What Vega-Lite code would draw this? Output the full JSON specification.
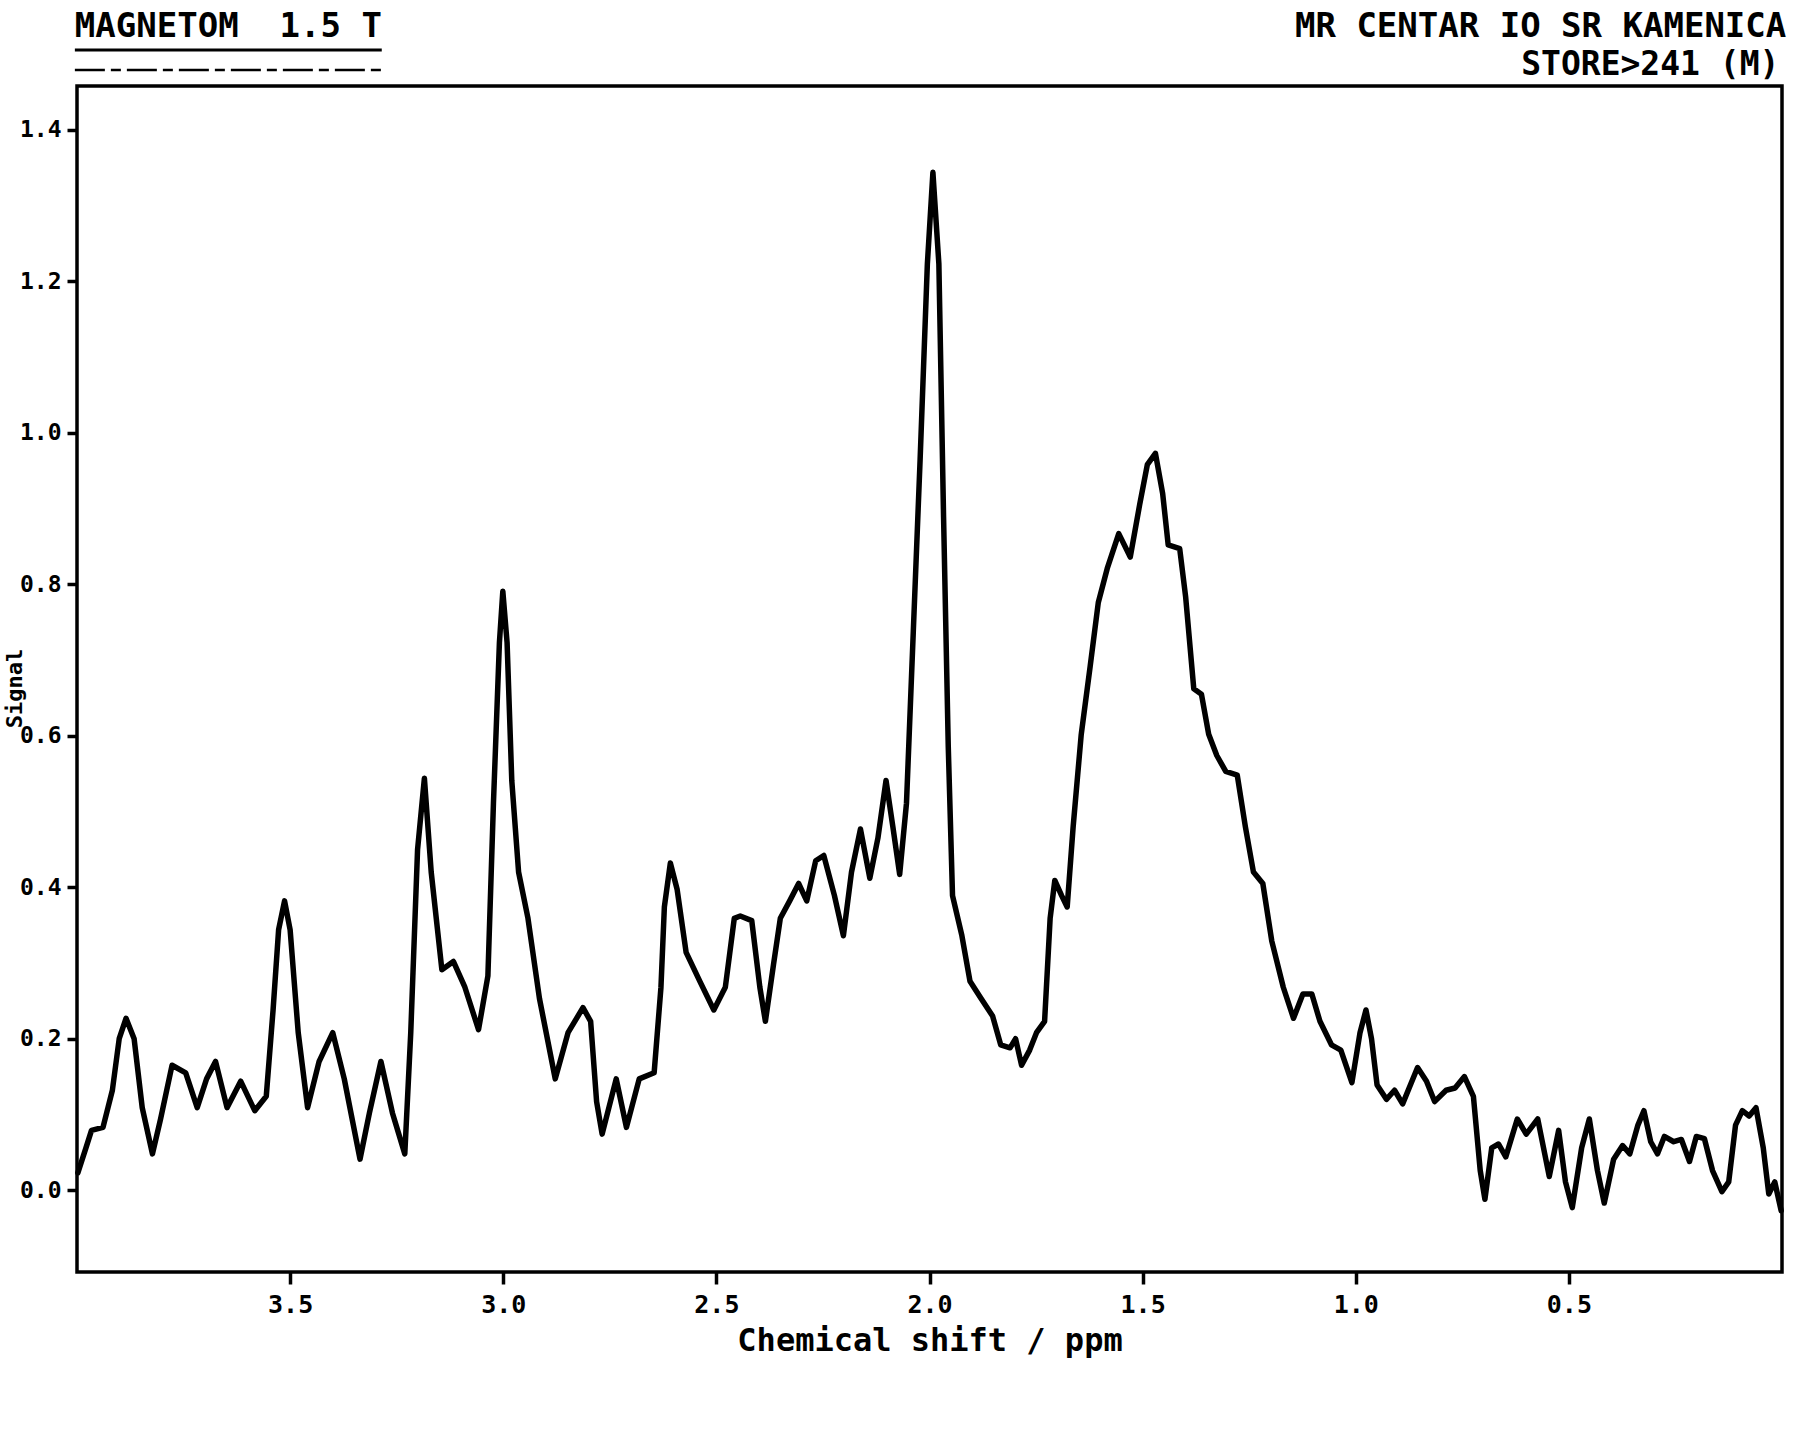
{
  "$schema": "https://vega.github.io/schema/vega-lite/v6.json",
  "width": 1705,
  "height": 1186,
  "autosize": {"type": "none"},
  "padding": {"left": 77, "top": 86, "right": 18, "bottom": 168},
  "background": "white",
  "datasets": {
    "note": [{"n": 1}]
  },
  "config": {
    "view": {"stroke": "black", "strokeWidth": 3.5},
    "axis": {"domain": false, "grid": false, "tickColor": "black", "tickWidth": 3.5, "labelColor": "black", "titleColor": "black", "labelFont": "DejaVu Sans Mono", "titleFont": "DejaVu Sans Mono", "labelFontWeight": "bold", "titleFontWeight": "bold"}
  },
  "layer": [
    {
      "data": {"values": [
        {"ppm": 3.998, "signal": 0.023}, {"ppm": 3.979, "signal": 0.056}, {"ppm": 3.966, "signal": 0.079}, {"ppm": 3.939, "signal": 0.083},
        {"ppm": 3.917, "signal": 0.132}, {"ppm": 3.901, "signal": 0.200}, {"ppm": 3.885, "signal": 0.227}, {"ppm": 3.866, "signal": 0.200},
        {"ppm": 3.847, "signal": 0.109}, {"ppm": 3.823, "signal": 0.048}, {"ppm": 3.804, "signal": 0.094}, {"ppm": 3.777, "signal": 0.165},
        {"ppm": 3.745, "signal": 0.155}, {"ppm": 3.718, "signal": 0.109}, {"ppm": 3.696, "signal": 0.147}, {"ppm": 3.675, "signal": 0.170},
        {"ppm": 3.648, "signal": 0.109}, {"ppm": 3.616, "signal": 0.144}, {"ppm": 3.583, "signal": 0.105}, {"ppm": 3.556, "signal": 0.124},
        {"ppm": 3.540, "signal": 0.238}, {"ppm": 3.527, "signal": 0.344}, {"ppm": 3.513, "signal": 0.382}, {"ppm": 3.500, "signal": 0.344},
        {"ppm": 3.481, "signal": 0.208}, {"ppm": 3.459, "signal": 0.109}, {"ppm": 3.432, "signal": 0.170}, {"ppm": 3.400, "signal": 0.208},
        {"ppm": 3.373, "signal": 0.147}, {"ppm": 3.336, "signal": 0.041}, {"ppm": 3.314, "signal": 0.102}, {"ppm": 3.287, "signal": 0.170},
        {"ppm": 3.260, "signal": 0.102}, {"ppm": 3.231, "signal": 0.048}, {"ppm": 3.217, "signal": 0.208}, {"ppm": 3.201, "signal": 0.450},
        {"ppm": 3.185, "signal": 0.544}, {"ppm": 3.169, "signal": 0.420}, {"ppm": 3.144, "signal": 0.291}, {"ppm": 3.117, "signal": 0.302},
        {"ppm": 3.090, "signal": 0.268}, {"ppm": 3.058, "signal": 0.212}, {"ppm": 3.036, "signal": 0.283}, {"ppm": 3.023, "signal": 0.511},
        {"ppm": 3.009, "signal": 0.723}, {"ppm": 3.001, "signal": 0.791}, {"ppm": 2.991, "signal": 0.723}, {"ppm": 2.980, "signal": 0.541},
        {"ppm": 2.964, "signal": 0.420}, {"ppm": 2.942, "signal": 0.359}, {"ppm": 2.915, "signal": 0.253}, {"ppm": 2.878, "signal": 0.147},
        {"ppm": 2.848, "signal": 0.208}, {"ppm": 2.813, "signal": 0.241}, {"ppm": 2.795, "signal": 0.223}, {"ppm": 2.781, "signal": 0.117},
        {"ppm": 2.768, "signal": 0.074}, {"ppm": 2.735, "signal": 0.147}, {"ppm": 2.711, "signal": 0.083}, {"ppm": 2.681, "signal": 0.147},
        {"ppm": 2.646, "signal": 0.155}, {"ppm": 2.630, "signal": 0.268}, {"ppm": 2.622, "signal": 0.374}, {"ppm": 2.608, "signal": 0.432},
        {"ppm": 2.592, "signal": 0.397}, {"ppm": 2.571, "signal": 0.314}, {"ppm": 2.539, "signal": 0.276}, {"ppm": 2.506, "signal": 0.238},
        {"ppm": 2.479, "signal": 0.268}, {"ppm": 2.458, "signal": 0.359}, {"ppm": 2.444, "signal": 0.362}, {"ppm": 2.417, "signal": 0.356},
        {"ppm": 2.398, "signal": 0.268}, {"ppm": 2.385, "signal": 0.223}, {"ppm": 2.366, "signal": 0.298}, {"ppm": 2.350, "signal": 0.359},
        {"ppm": 2.328, "signal": 0.382}, {"ppm": 2.307, "signal": 0.405}, {"ppm": 2.288, "signal": 0.382}, {"ppm": 2.267, "signal": 0.435},
        {"ppm": 2.248, "signal": 0.442}, {"ppm": 2.223, "signal": 0.389}, {"ppm": 2.202, "signal": 0.336}, {"ppm": 2.183, "signal": 0.420},
        {"ppm": 2.162, "signal": 0.477}, {"ppm": 2.140, "signal": 0.412}, {"ppm": 2.121, "signal": 0.465}, {"ppm": 2.102, "signal": 0.541},
        {"ppm": 2.086, "signal": 0.480}, {"ppm": 2.070, "signal": 0.417}, {"ppm": 2.054, "signal": 0.511}, {"ppm": 2.038, "signal": 0.738},
        {"ppm": 2.022, "signal": 0.965}, {"ppm": 2.005, "signal": 1.223}, {"ppm": 1.992, "signal": 1.344}, {"ppm": 1.978, "signal": 1.223},
        {"ppm": 1.967, "signal": 0.889}, {"ppm": 1.956, "signal": 0.586}, {"ppm": 1.946, "signal": 0.389}, {"ppm": 1.924, "signal": 0.336},
        {"ppm": 1.905, "signal": 0.276}, {"ppm": 1.879, "signal": 0.253}, {"ppm": 1.852, "signal": 0.230}, {"ppm": 1.833, "signal": 0.192},
        {"ppm": 1.811, "signal": 0.188}, {"ppm": 1.798, "signal": 0.200}, {"ppm": 1.784, "signal": 0.165}, {"ppm": 1.765, "signal": 0.185},
        {"ppm": 1.749, "signal": 0.208}, {"ppm": 1.730, "signal": 0.223}, {"ppm": 1.717, "signal": 0.359}, {"ppm": 1.706, "signal": 0.409},
        {"ppm": 1.690, "signal": 0.389}, {"ppm": 1.677, "signal": 0.374}, {"ppm": 1.663, "signal": 0.480}, {"ppm": 1.644, "signal": 0.602},
        {"ppm": 1.623, "signal": 0.692}, {"ppm": 1.604, "signal": 0.776}, {"ppm": 1.583, "signal": 0.821}, {"ppm": 1.556, "signal": 0.867},
        {"ppm": 1.529, "signal": 0.836}, {"ppm": 1.507, "signal": 0.905}, {"ppm": 1.489, "signal": 0.958}, {"ppm": 1.470, "signal": 0.973},
        {"ppm": 1.453, "signal": 0.920}, {"ppm": 1.440, "signal": 0.852}, {"ppm": 1.413, "signal": 0.847}, {"ppm": 1.399, "signal": 0.783},
        {"ppm": 1.380, "signal": 0.662}, {"ppm": 1.362, "signal": 0.655}, {"ppm": 1.345, "signal": 0.602}, {"ppm": 1.326, "signal": 0.574},
        {"ppm": 1.305, "signal": 0.553}, {"ppm": 1.278, "signal": 0.548}, {"ppm": 1.259, "signal": 0.480}, {"ppm": 1.240, "signal": 0.420},
        {"ppm": 1.218, "signal": 0.405}, {"ppm": 1.197, "signal": 0.329}, {"ppm": 1.170, "signal": 0.268}, {"ppm": 1.146, "signal": 0.227},
        {"ppm": 1.124, "signal": 0.259}, {"ppm": 1.103, "signal": 0.259}, {"ppm": 1.084, "signal": 0.223}, {"ppm": 1.057, "signal": 0.192},
        {"ppm": 1.035, "signal": 0.185}, {"ppm": 1.009, "signal": 0.142}, {"ppm": 0.990, "signal": 0.208}, {"ppm": 0.976, "signal": 0.238},
        {"ppm": 0.963, "signal": 0.200}, {"ppm": 0.950, "signal": 0.139}, {"ppm": 0.928, "signal": 0.120}, {"ppm": 0.909, "signal": 0.132},
        {"ppm": 0.890, "signal": 0.114}, {"ppm": 0.855, "signal": 0.162}, {"ppm": 0.834, "signal": 0.144}, {"ppm": 0.815, "signal": 0.117},
        {"ppm": 0.788, "signal": 0.132}, {"ppm": 0.767, "signal": 0.135}, {"ppm": 0.745, "signal": 0.150}, {"ppm": 0.724, "signal": 0.124},
        {"ppm": 0.708, "signal": 0.026}, {"ppm": 0.697, "signal": -0.012}, {"ppm": 0.681, "signal": 0.056}, {"ppm": 0.665, "signal": 0.061},
        {"ppm": 0.648, "signal": 0.044}, {"ppm": 0.621, "signal": 0.094}, {"ppm": 0.600, "signal": 0.074}, {"ppm": 0.573, "signal": 0.094},
        {"ppm": 0.546, "signal": 0.018}, {"ppm": 0.524, "signal": 0.079}, {"ppm": 0.508, "signal": 0.011}, {"ppm": 0.492, "signal": -0.023},
        {"ppm": 0.470, "signal": 0.056}, {"ppm": 0.452, "signal": 0.094}, {"ppm": 0.433, "signal": 0.026}, {"ppm": 0.417, "signal": -0.017},
        {"ppm": 0.395, "signal": 0.041}, {"ppm": 0.374, "signal": 0.059}, {"ppm": 0.357, "signal": 0.048}, {"ppm": 0.338, "signal": 0.086},
        {"ppm": 0.324, "signal": 0.105}, {"ppm": 0.308, "signal": 0.064}, {"ppm": 0.292, "signal": 0.048}, {"ppm": 0.276, "signal": 0.071},
        {"ppm": 0.254, "signal": 0.064}, {"ppm": 0.236, "signal": 0.067}, {"ppm": 0.217, "signal": 0.038}, {"ppm": 0.201, "signal": 0.071},
        {"ppm": 0.182, "signal": 0.068}, {"ppm": 0.163, "signal": 0.026}, {"ppm": 0.141, "signal": -0.002}, {"ppm": 0.125, "signal": 0.011},
        {"ppm": 0.109, "signal": 0.086}, {"ppm": 0.093, "signal": 0.105}, {"ppm": 0.077, "signal": 0.098}, {"ppm": 0.061, "signal": 0.109},
        {"ppm": 0.044, "signal": 0.056}, {"ppm": 0.031, "signal": -0.005}, {"ppm": 0.017, "signal": 0.011}, {"ppm": 0.002, "signal": -0.027}
      ]},
      "mark": {"type": "line", "color": "black", "strokeWidth": 5.5, "strokeJoin": "round", "strokeCap": "round"},
      "encoding": {
        "x": {"field": "ppm", "type": "quantitative",
          "scale": {"domain": [4.0, 0.0], "nice": false, "zero": false},
          "axis": {"values": [3.5, 3.0, 2.5, 2.0, 1.5, 1.0, 0.5], "format": ".1f", "tickSize": 12, "labelFontSize": 25, "labelPadding": 8,
            "title": "Chemical shift / ppm", "titleFontSize": 32, "titlePadding": 8}},
        "y": {"field": "signal", "type": "quantitative",
          "scale": {"domain": [-0.108, 1.458], "nice": false, "zero": false},
          "axis": {"values": [0, 0.2, 0.4, 0.6, 0.8, 1.0, 1.2, 1.4], "format": ".1f", "tickSize": 10, "labelFontSize": 23, "labelPadding": 6,
            "title": "Signal", "titleFontSize": 22, "titleX": -51, "titleY": 602, "titleAngle": -90, "titleBaseline": "bottom"}}
      }
    },
    {
      "data": {"name": "note"},
      "mark": {"type": "text", "text": "MAGNETOM\u00a0\u00a01.5\u00a0T", "font": "DejaVu Sans Mono", "fontWeight": "bold", "fontSize": 34, "align": "left", "baseline": "alphabetic", "color": "black"},
      "encoding": {"x": {"datum": 4.005}, "y": {"datum": 1.5227}}
    },
    {
      "data": {"name": "note"},
      "mark": {"type": "rule", "color": "black", "strokeWidth": 3},
      "encoding": {"x": {"datum": 4.005}, "x2": {"datum": 3.285}, "y": {"datum": 1.5055}}
    },
    {
      "data": {"name": "note"},
      "mark": {"type": "rule", "color": "black", "strokeWidth": 2.5, "strokeDash": [30, 6, 10, 6]},
      "encoding": {"x": {"datum": 4.005}, "x2": {"datum": 3.285}, "y": {"datum": 1.479}}
    },
    {
      "data": {"name": "note"},
      "mark": {"type": "text", "text": "MR CENTAR IO SR KAMENICA", "font": "DejaVu Sans Mono", "fontWeight": "bold", "fontSize": 34, "align": "right", "baseline": "alphabetic", "color": "black"},
      "encoding": {"x": {"datum": -0.01}, "y": {"datum": 1.5227}}
    },
    {
      "data": {"name": "note"},
      "mark": {"type": "text", "text": "STORE>241 (M)", "font": "DejaVu Sans Mono", "fontWeight": "bold", "fontSize": 33, "align": "right", "baseline": "alphabetic", "color": "black"},
      "encoding": {"x": {"datum": 0.006}, "y": {"datum": 1.4725}}
    }
  ]
}
